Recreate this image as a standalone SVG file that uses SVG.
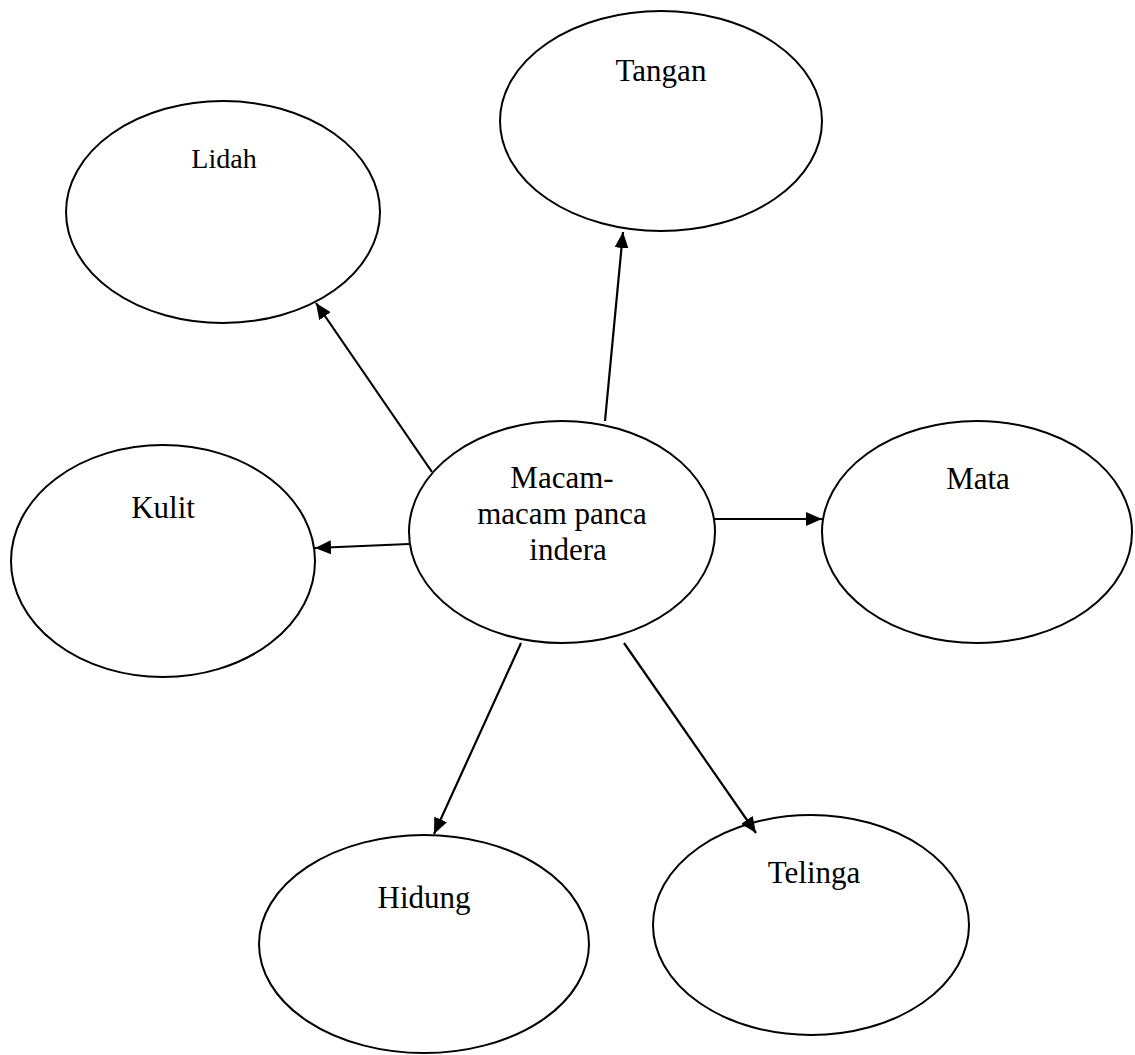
<svg xmlns="http://www.w3.org/2000/svg" width="1135" height="1055" viewBox="0 0 1135 1055">
<style>
.node ellipse{fill:#fff;stroke:#000;stroke-width:2}
.node text{font-family:"Liberation Serif","Times New Roman",serif;font-size:31px;fill:#000;text-anchor:middle}
.conn line{stroke:#000;stroke-width:2.2;marker-end:url(#ah)}
</style>
<defs>
<marker id="ah" markerUnits="userSpaceOnUse" markerWidth="18" markerHeight="14" refX="16" refY="7" orient="auto">
<path d="M0,0 L16,7 L0,14 Z" fill="#000"/>
</marker>
</defs>
<rect width="1135" height="1055" fill="#fff"/>
<g id="tangan" class="node"><ellipse cx="661" cy="121" rx="161" ry="110"/><text x="661" y="81">Tangan</text></g>
<g id="lidah" class="node"><ellipse cx="223" cy="212" rx="157" ry="111"/><text x="224" y="168" style="font-size:28px">Lidah</text></g>
<g id="kulit" class="node"><ellipse cx="163" cy="561" rx="152" ry="116"/><text x="163" y="518">Kulit</text></g>
<g id="pusat" class="node"><ellipse cx="562" cy="532" rx="153" ry="111"/><text x="562" y="488">Macam-</text><text x="562" y="524">macam panca</text><text x="568" y="560">indera</text></g>
<g id="mata" class="node"><ellipse cx="977" cy="532" rx="155" ry="111"/><text x="978" y="489">Mata</text></g>
<g id="hidung" class="node"><ellipse cx="424" cy="944" rx="165" ry="109"/><text x="424" y="908">Hidung</text></g>
<g id="telinga" class="node"><ellipse cx="811" cy="925" rx="158" ry="110"/><text x="814" y="883">Telinga</text></g>
<g id="connectors" class="conn">
<line x1="605" y1="421" x2="623" y2="232"/>
<line x1="432" y1="472" x2="316" y2="303"/>
<line x1="409" y1="544" x2="315" y2="548"/>
<line x1="715" y1="519" x2="822" y2="519"/>
<line x1="521" y1="643" x2="434" y2="834"/>
<line x1="624" y1="643" x2="756" y2="833"/>
</g>
</svg>
